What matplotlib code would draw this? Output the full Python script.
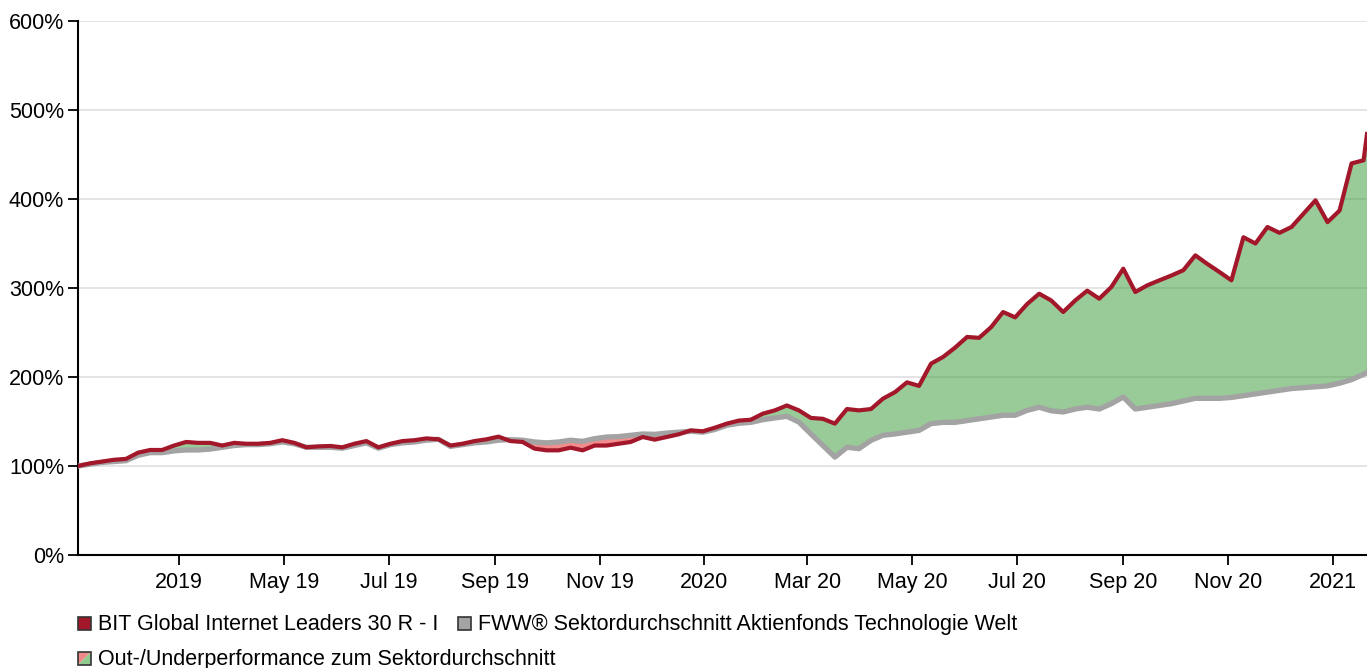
import numpy as np
import pandas as pd
import matplotlib
matplotlib.use("Agg")
import matplotlib.pyplot as plt
from matplotlib.patches import Rectangle, Polygon
from matplotlib.ticker import FuncFormatter

plt.rcParams['font.family'] = ['Liberation Sans', 'DejaVu Sans']

# weekly values, in % of start
dates = list(pd.date_range('2019-01-01', periods=108, freq='7D')) + [pd.Timestamp('2021-01-21')]

fund = [100, 103, 105, 107, 108, 115, 118, 118, 123, 127,
        126, 126, 123, 126, 125, 125, 126, 129, 126, 121,
        122, 122.5, 121, 125, 128, 121, 125, 128, 129, 131,
        130, 123, 125, 128, 130, 133, 128, 127, 119.5, 117.6,
        117.6, 120.6, 117.6, 123, 123, 125, 127, 132.6, 129.6, 132.6,
        135.6, 140, 139, 143, 147.6, 151, 152, 158.8, 162.5, 168,
        162.5, 154, 153, 147.6, 164, 162.5, 164, 175.7, 183, 194,
        190, 215, 222.5, 233, 245, 244, 256, 273, 267, 282,
        293.6, 286, 273, 286, 297, 288, 301, 321.7, 295.5, 303,
        308.6, 314, 320, 336.7, 327, 318, 308.6, 357, 350, 368.5,
        362, 368.5, 383.5, 398.5, 374, 387, 440, 443.5,
        473]

sector = [100, 102, 104, 105, 106, 112, 115, 115, 117, 118,
          118, 119, 121, 123, 124, 124, 125, 127, 125, 121,
          121, 121, 120, 123, 126, 120, 124, 126, 127, 129,
          130, 122, 124, 126, 127, 129, 129.6, 129, 127, 126,
          127, 129, 127.7, 130.7, 132.6, 133, 134.5, 136, 135.6, 137,
          138, 139, 138, 141, 145.7, 148, 149, 152, 154, 155.8,
          149.4, 136, 123, 110, 121, 119.5, 128.8, 134.5, 136, 138,
          140, 147.6, 149, 149, 151, 153, 155, 157, 157, 162.5,
          166, 162, 160.7, 164, 166, 164, 170, 177.5, 164, 166,
          168, 170, 173, 176, 176, 176, 177, 179, 181, 183,
          185, 187, 188, 189, 190, 193, 197, 203,
          205]

tick_dates = ['2019-03-01', '2019-05-01', '2019-07-01', '2019-09-01', '2019-11-01',
              '2020-01-01', '2020-03-01', '2020-05-01', '2020-07-01', '2020-09-01',
              '2020-11-01', '2021-01-01']
tick_labels = ['2019', 'May 19', 'Jul 19', 'Sep 19', 'Nov 19', '2020',
               'Mar 20', 'May 20', 'Jul 20', 'Sep 20', 'Nov 20', '2021']

legend_labels = ['BIT Global Internet Leaders 30 R - I',
                 'FWW® Sektordurchschnitt Aktienfonds Technologie Welt',
                 'Out-/Underperformance zum Sektordurchschnitt']

red = '#a3172a'
grey = '#a3a3a3'
fs = 15.5

W, H = 1367, 668
fig = plt.figure(figsize=(W / 100, H / 100), dpi=100)
ax = fig.add_axes([78 / W, (H - 555) / H, (W - 78) / W, (555 - 21) / H])

x = np.array(dates)
f = np.array(fund)
s = np.array(sector)

ax.fill_between(x, s, f, where=f >= s, interpolate=True, color='#339933', alpha=0.5, lw=0, zorder=2)
ax.fill_between(x, s, f, where=f < s, interpolate=True, color='#e81c1c', alpha=0.5, lw=0, zorder=2)
ax.plot(x, s, color=grey, lw=3.8, zorder=3, solid_joinstyle='round')
ax.plot(x, f, color=red, lw=3.0, zorder=4, solid_joinstyle='round')

ax.set_ylim(0, 600)
ax.set_yticks(range(0, 601, 100))
ax.yaxis.set_major_formatter(FuncFormatter(lambda v, p: f'{int(v)}%'))
ax.set_xlim(pd.Timestamp('2019-01-01'), pd.Timestamp('2021-01-21'))
ax.set_xticks([pd.Timestamp(d) for d in tick_dates])
ax.set_xticklabels(tick_labels)

ax.grid(axis='y', color='#e4e4e4', lw=1.4, zorder=0)
ax.set_axisbelow(True)
for sp in ['top', 'right']:
    ax.spines[sp].set_visible(False)
ax.spines['left'].set_linewidth(1.5)
ax.spines['bottom'].set_linewidth(1.5)
ax.tick_params(axis='both', length=7, width=1.3, labelsize=fs, colors='black')
ax.tick_params(axis='y', pad=3)
ax.tick_params(axis='x', pad=5)

# legend drawn by hand below the plot
def px(xp, yp):
    return xp / W, 1 - yp / H

def square(x0, y0, color):
    x1, y1 = px(x0, y0 + 13)
    fig.patches.append(Rectangle((x1, y1), 13 / W, 13 / H, transform=fig.transFigure,
                                 facecolor=color, edgecolor='#333333', lw=1.2))

square(78, 617, red)
fig.text(*px(98, 624), legend_labels[0], fontsize=fs, va='center')
square(458, 617, grey)
fig.text(*px(478, 624), legend_labels[1], fontsize=fs, va='center')

x0, y0 = 78, 652
fig.patches.append(Polygon([px(x0, y0), px(x0, y0 + 13), px(x0 + 13, y0)], closed=True,
                           transform=fig.transFigure, facecolor='#f08a8a', lw=0))
fig.patches.append(Polygon([px(x0 + 13, y0), px(x0 + 13, y0 + 13), px(x0, y0 + 13)], closed=True,
                           transform=fig.transFigure, facecolor='#8fcb8f', lw=0))
fig.patches.append(Rectangle(px(x0, y0 + 13), 13 / W, 13 / H, transform=fig.transFigure,
                             facecolor='none', edgecolor='#333333', lw=1.2))
fig.text(*px(98, 659), legend_labels[2], fontsize=fs, va='center')

fig.savefig('out.png', dpi=100)
